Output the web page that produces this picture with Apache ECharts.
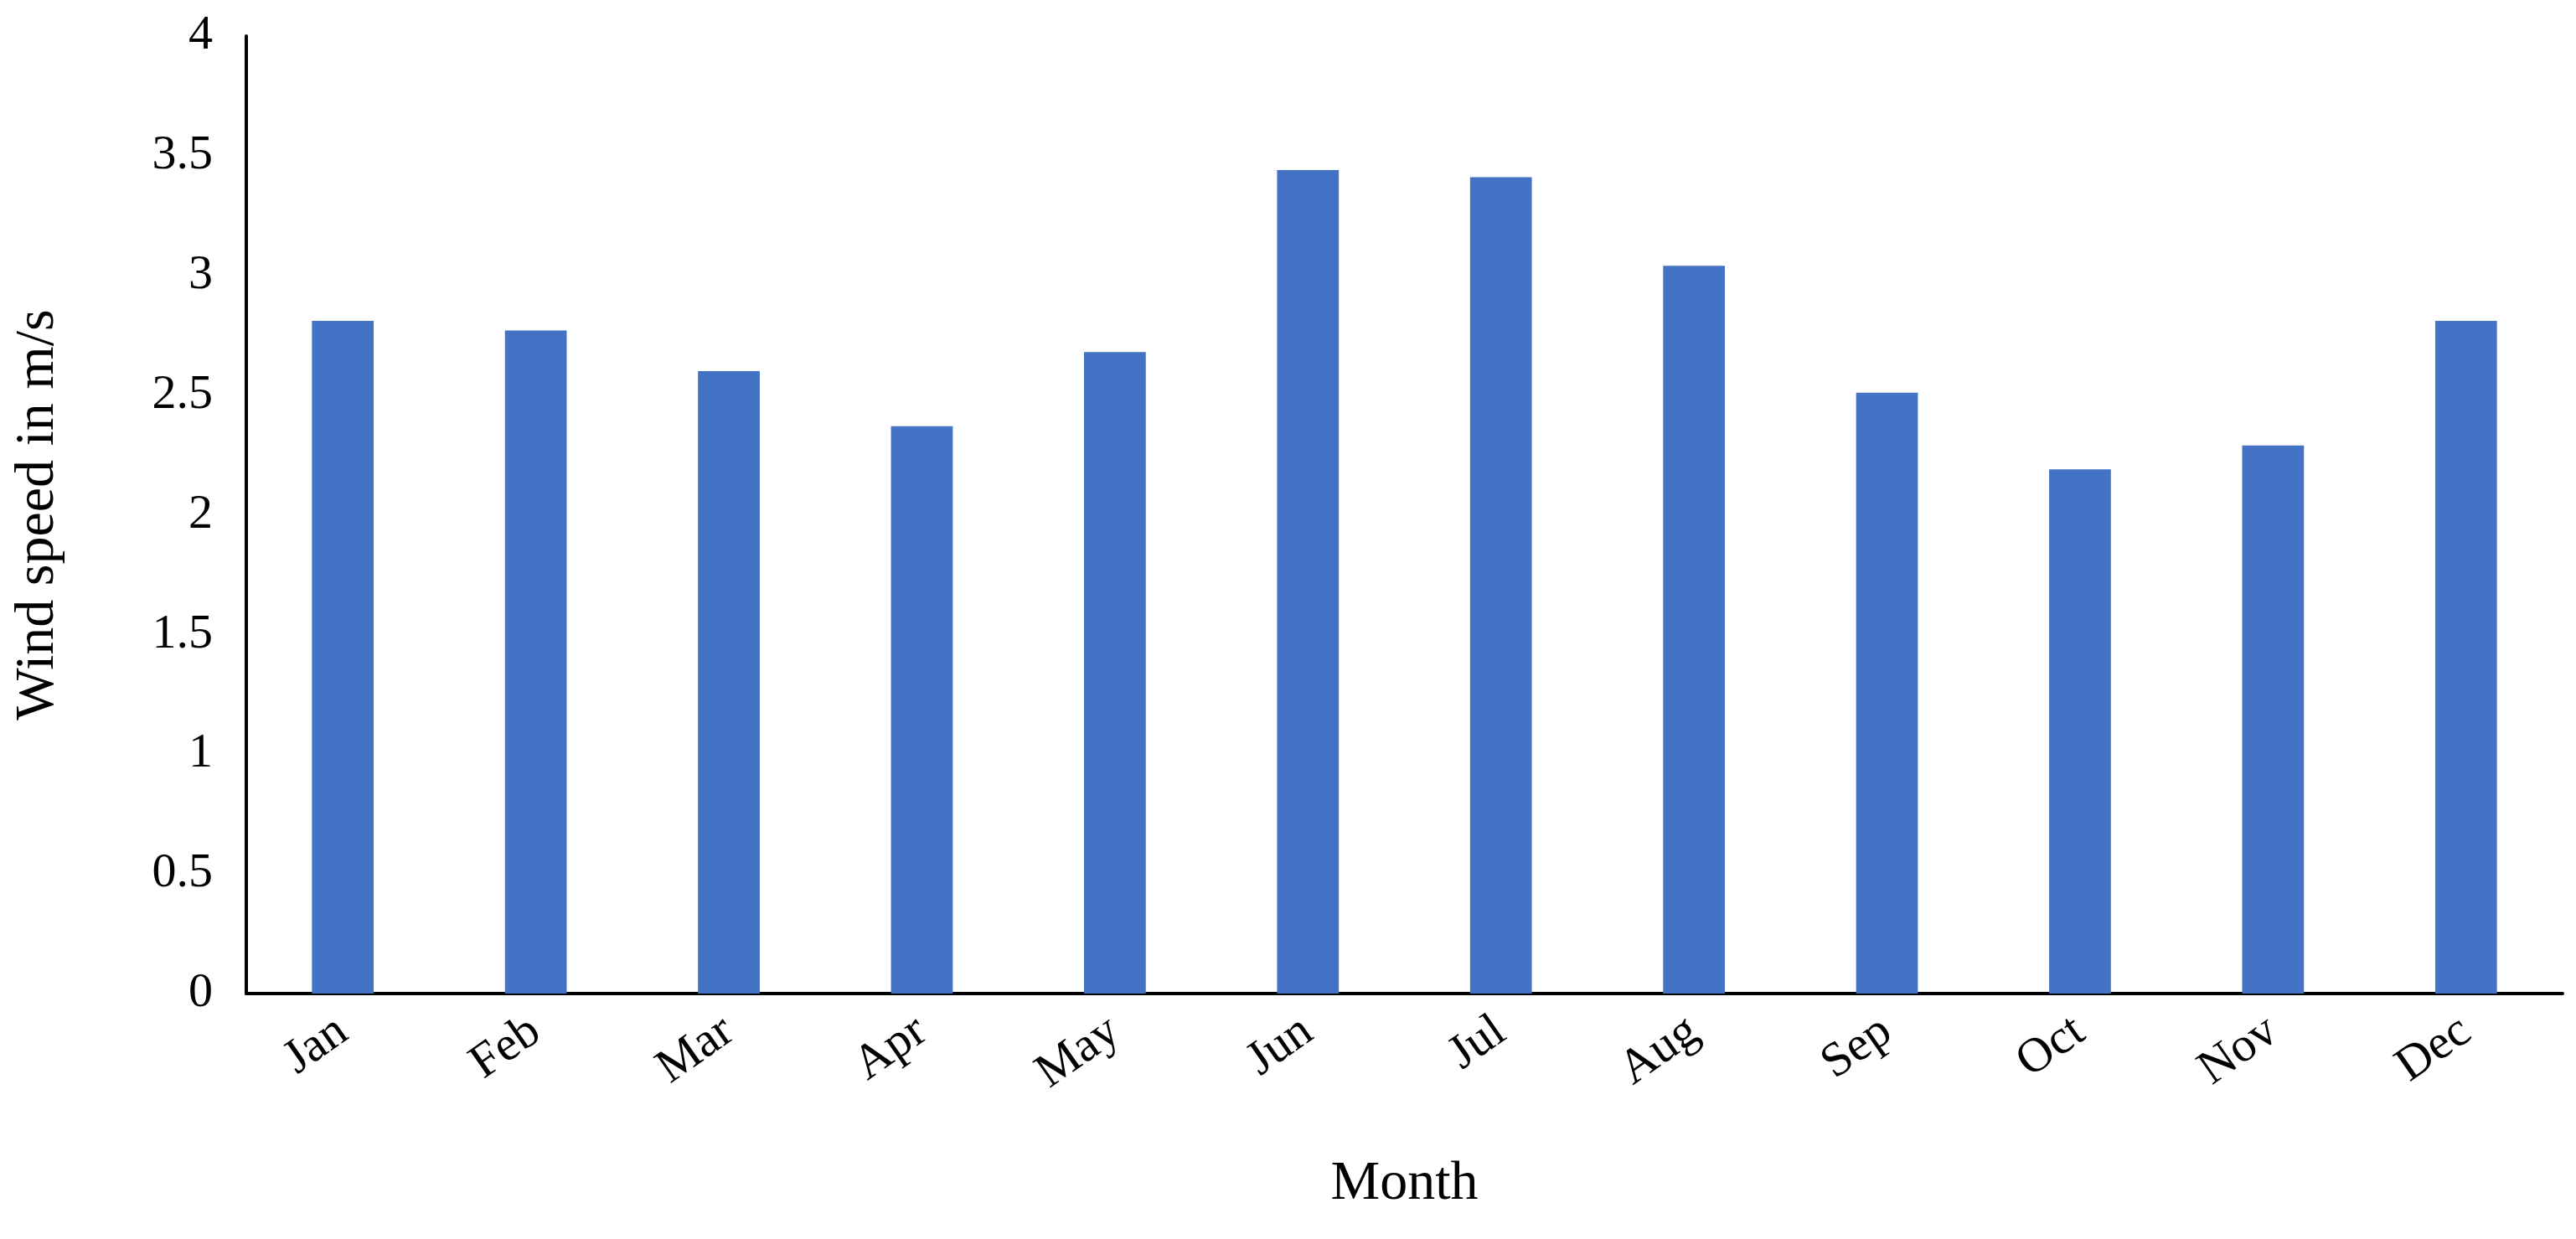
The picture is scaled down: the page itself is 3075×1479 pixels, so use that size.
<!DOCTYPE html>
<html>
<head>
  <meta charset="utf-8">
  <title>Wind speed</title>
  <script src="https://cdn.jsdelivr.net/npm/echarts/dist/echarts.min.js"></script>
  <style>
    html, body { margin: 0; padding: 0; background: #fff; }
    #chart { width: 3075px; height: 1479px; }
  </style>
</head>
<body>
  <div id="chart"></div>
  <script>
    // data
    const months = ['Jan', 'Feb', 'Mar', 'Apr', 'May', 'Jun', 'Jul', 'Aug', 'Sep', 'Oct', 'Nov', 'Dec'];
    const windSpeed = [2.81, 2.77, 2.60, 2.37, 2.68, 3.44, 3.41, 3.04, 2.51, 2.19, 2.29, 2.81];

    const font = 'Liberation Serif';
    const chart = echarts.init(document.getElementById('chart'));
    chart.setOption({
      animation: false,
      grid: { left: 294, right: 16, top: 43, bottom: 293 },
      xAxis: {
        type: 'category',
        data: months,
        name: 'Month',
        nameLocation: 'middle',
        nameGap: 195,
        nameTextStyle: { fontFamily: font, fontSize: 66, color: '#000' },
        axisLine: { lineStyle: { color: '#000', width: 4 } },
        axisTick: { show: false },
        axisLabel: { rotate: 35, margin: 40, fontFamily: font, fontSize: 58, color: '#000' }
      },
      yAxis: {
        type: 'value',
        min: 0, max: 4, interval: 0.5,
        name: 'Wind speed in m/s',
        nameLocation: 'middle',
        nameGap: 215,
        nameTextStyle: { fontFamily: font, fontSize: 66, color: '#000' },
        axisLine: { show: true, lineStyle: { color: '#000', width: 4 } },
        axisTick: { show: false },
        splitLine: { show: false },
        axisLabel: { margin: 40, fontFamily: font, fontSize: 58, color: '#000' }
      },
      series: [{
        type: 'bar',
        data: windSpeed,
        barWidth: '32%',
        itemStyle: { color: '#4472C4' }
      }]
    });
  </script>
</body>
</html>
